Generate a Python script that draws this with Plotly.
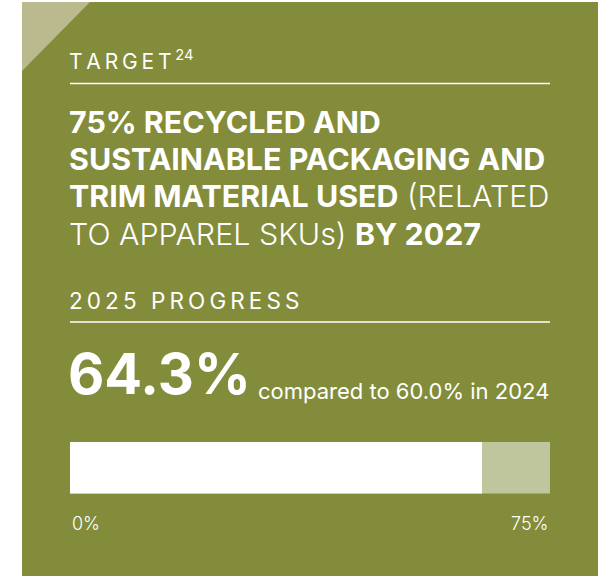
import plotly.graph_objects as go

W, H = 605, 576

# Data
target_pct = 75
progress_2025 = 64.3
progress_2024 = 60.0
axis_labels = ["0%", "75%"]
axis_vals = [0, 75]

OLIVE = "#838c3a"
LIGHT = "#bfc59c"
TRI = "#bbba8e"
FONT = "Inter"

def px(x):
    return x / W

def py(y):
    return 1 - y / H

fig = go.Figure()
# background (remaining to target)
fig.add_trace(go.Bar(x=[target_pct], y=[0], orientation="h", marker=dict(color=LIGHT, line=dict(width=0)),
                     hoverinfo="skip", showlegend=False))
fig.add_trace(go.Bar(x=[progress_2025], y=[0], orientation="h", marker=dict(color="white", line=dict(width=0)),
                     hoverinfo="skip", showlegend=False))

shapes = [
    dict(type="rect", xref="paper", yref="paper", x0=px(22), x1=px(598), y0=py(576), y1=py(2),
         fillcolor=OLIVE, line=dict(width=0), layer="below"),
    dict(type="path", xref="paper", yref="paper",
         path=f"M {px(22)},{py(2)} L {px(90)},{py(2)} L {px(22)},{py(71)} Z",
         fillcolor=TRI, line=dict(width=0), layer="below"),
    dict(type="line", xref="paper", yref="paper", x0=px(70), x1=px(550), y0=py(83.5), y1=py(83.5),
         line=dict(color="white", width=1.5)),
    dict(type="line", xref="paper", yref="paper", x0=px(70), x1=px(550), y0=py(322), y1=py(322),
         line=dict(color="white", width=1.5)),
]

ann = []
def text(x, y, t, size, weight=400, xanchor="left", yanchor="bottom"):
    ann.append(dict(x=px(x), y=py(y), xref="paper", yref="paper", text=t, showarrow=False,
                    xanchor=xanchor, yanchor=yanchor, align="left",
                    font=dict(family=FONT, size=size, color="white", weight=weight)))

sp = "\u2009"
text(67, 76, sp.join("TARGET") + sp + "<sup>24</sup>", 21)

title_lines = [
    "<b>75% RECYCLED AND</b>",
    "<b>SUSTAINABLE PACKAGING AND</b>",
    "<b>TRIM MATERIAL USED</b> (RELATED",
    "TO APPAREL SKUs) <b>BY 2027</b>",
]
ys = [142, 179, 216, 254]
for t, y in zip(title_lines, ys):
    text(67, y, t, 30.4, weight=300)

text(67, 316, sp.join("2025") + sp + " " + sp + sp.join("PROGRESS"), 22.5)
text(66, 410, f"<b>{progress_2025}%</b>", 56)
text(256, 406, f"compared to {progress_2024:.1f}% in 2024", 22)

for v, lab, anc in zip(axis_vals, axis_labels, ["left", "right"]):
    ann.append(dict(x=v, y=py(523), xref="x", yref="paper", text=lab, showarrow=False,
                    xanchor=anc, yanchor="middle", font=dict(family=FONT, size=18, color="white", weight=300)))

fig.update_layout(
    width=W, height=H, margin=dict(l=0, r=0, t=0, b=0),
    paper_bgcolor="white", plot_bgcolor="rgba(0,0,0,0)",
    barmode="overlay", bargap=0,
    xaxis=dict(domain=[px(70), px(550)], range=[0, target_pct], visible=False, fixedrange=True),
    yaxis=dict(domain=[py(493.5), py(442)], range=[-0.5, 0.5], visible=False, fixedrange=True),
    shapes=shapes, annotations=ann, showlegend=False,
)

fig.write_html("out.html")
